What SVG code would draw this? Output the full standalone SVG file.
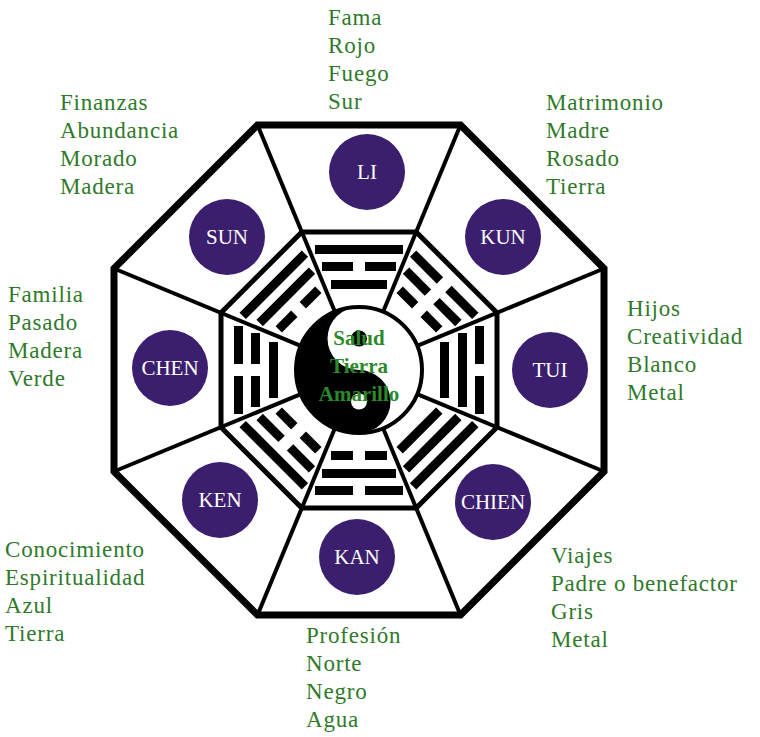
<svg xmlns="http://www.w3.org/2000/svg" xmlns:xlink="http://www.w3.org/1999/xlink" width="760" height="737" viewBox="0 0 760 737">
<style>
.lbl{font-family:"Liberation Serif",serif;font-size:23px;letter-spacing:0.8px;fill:#2f7a2a}
.nm{font-family:"Liberation Serif",serif;font-size:21px;fill:#fff;text-anchor:middle}
.pc{fill:#3b1f6e}
.ctr{font-family:"Liberation Serif",serif;font-size:21px;font-weight:bold;fill:#2a8a2a;text-anchor:middle}
</style>
<defs>
<rect id="s1" x="331" y="280" width="56" height="9"/>
<g id="b1"><rect x="331" y="280" width="22" height="9"/><rect x="365" y="280" width="22" height="9"/></g>
<rect id="s2" x="322" y="262" width="74" height="9"/>
<g id="b2"><rect x="322" y="262" width="31" height="9"/><rect x="365" y="262" width="31" height="9"/></g>
<rect id="s3" x="315" y="245" width="88" height="9"/>
<g id="b3"><rect x="315" y="245" width="38" height="9"/><rect x="365" y="245" width="38" height="9"/></g>
</defs>
<rect width="760" height="737" fill="#fff"/>
<g id="frame" fill="none" stroke="#000">
<polygon points="257.5,125 460.5,125 604,268.5 604,471.5 460.5,615 257.5,615 114,471.5 114,268.5" stroke-width="7"/>
<polygon points="301.8,232 416.2,232 497,312.8 497,427.2 416.2,508 301.8,508 221,427.2 221,312.8" stroke-width="5"/>
</g>
<g id="connectors" stroke="#000" stroke-width="4">
<line x1="383.1" y1="311.8" x2="460.5" y2="125"/>
<line x1="417.2" y1="345.9" x2="604" y2="268.5"/>
<line x1="417.2" y1="394.1" x2="604" y2="471.5"/>
<line x1="383.1" y1="428.2" x2="460.5" y2="615"/>
<line x1="334.9" y1="428.2" x2="257.5" y2="615"/>
<line x1="300.8" y1="394.1" x2="114" y2="471.5"/>
<line x1="300.8" y1="345.9" x2="114" y2="268.5"/>
<line x1="334.9" y1="311.8" x2="257.5" y2="125"/>
</g>
<g id="trigrams" fill="#000">
<g id="tri-li"><use href="#s1"/><use href="#b2"/><use href="#s3"/></g>
<g id="tri-kun" transform="rotate(45 359 370)"><use href="#b1"/><use href="#b2"/><use href="#b3"/></g>
<g id="tri-tui" transform="rotate(90 359 370)"><use href="#s1"/><use href="#s2"/><use href="#b3"/></g>
<g id="tri-chien" transform="rotate(135 359 370)"><use href="#s1"/><use href="#s2"/><use href="#s3"/></g>
<g id="tri-kan" transform="rotate(180 359 370)"><use href="#b1"/><use href="#s2"/><use href="#b3"/></g>
<g id="tri-ken" transform="rotate(225 359 370)"><use href="#b1"/><use href="#b2"/><use href="#s3"/></g>
<g id="tri-chen" transform="rotate(270 359 370)"><use href="#s1"/><use href="#b2"/><use href="#b3"/></g>
<g id="tri-sun" transform="rotate(315 359 370)"><use href="#b1"/><use href="#s2"/><use href="#s3"/></g>
</g>
<g id="center">
<circle cx="359" cy="370" r="63" fill="#fff"/>
<path d="M359,307 A63,63 0 0 0 359,433 A31.5,31.5 0 0 0 359,370 A31.5,31.5 0 0 1 359,307 Z" fill="#000"/>
<circle cx="359" cy="338.5" r="8" fill="#000"/>
<circle cx="359" cy="401.5" r="8" fill="#fff"/>
<circle cx="359" cy="370" r="63" fill="none" stroke="#000" stroke-width="4"/>
<text class="ctr" x="359" y="345">Salud</text>
<text class="ctr" x="359" y="373">Tierra</text>
<text class="ctr" x="359" y="401">Amarillo</text>
</g>
<g id="n-li"><circle class="pc" cx="367" cy="172" r="38"/><text class="nm" x="367" y="179">LI</text></g>
<g id="n-sun"><circle class="pc" cx="227" cy="237" r="38"/><text class="nm" x="227" y="244">SUN</text></g>
<g id="n-kun"><circle class="pc" cx="503" cy="237" r="38"/><text class="nm" x="503" y="244">KUN</text></g>
<g id="n-chen"><circle class="pc" cx="170" cy="368" r="38"/><text class="nm" x="170" y="375">CHEN</text></g>
<g id="n-tui"><circle class="pc" cx="550" cy="370" r="38"/><text class="nm" x="550" y="377">TUI</text></g>
<g id="n-ken"><circle class="pc" cx="220" cy="500" r="38"/><text class="nm" x="220" y="507">KEN</text></g>
<g id="n-chien"><circle class="pc" cx="493" cy="502" r="38"/><text class="nm" x="493" y="509">CHIEN</text></g>
<g id="n-kan"><circle class="pc" cx="357" cy="557" r="38"/><text class="nm" x="357" y="564">KAN</text></g>
<g id="labels" class="lbl">
<text class="lbl" x="328" y="25">Fama</text><text class="lbl" x="328" y="53">Rojo</text><text class="lbl" x="328" y="81">Fuego</text><text class="lbl" x="328" y="109">Sur</text>
<text class="lbl" x="60" y="110">Finanzas</text><text class="lbl" x="60" y="138">Abundancia</text><text class="lbl" x="60" y="166">Morado</text><text class="lbl" x="60" y="194">Madera</text>
<text class="lbl" x="546" y="110">Matrimonio</text><text class="lbl" x="546" y="138">Madre</text><text class="lbl" x="546" y="166">Rosado</text><text class="lbl" x="546" y="194">Tierra</text>
<text class="lbl" x="8" y="302">Familia</text><text class="lbl" x="8" y="330">Pasado</text><text class="lbl" x="8" y="358">Madera</text><text class="lbl" x="8" y="386">Verde</text>
<text class="lbl" x="627" y="316">Hijos</text><text class="lbl" x="627" y="344">Creatividad</text><text class="lbl" x="627" y="372">Blanco</text><text class="lbl" x="627" y="400">Metal</text>
<text class="lbl" x="5" y="557">Conocimiento</text><text class="lbl" x="5" y="585">Espiritualidad</text><text class="lbl" x="5" y="613">Azul</text><text class="lbl" x="5" y="641">Tierra</text>
<text class="lbl" x="551" y="563">Viajes</text><text class="lbl" x="551" y="591">Padre o benefactor</text><text class="lbl" x="551" y="619">Gris</text><text class="lbl" x="551" y="647">Metal</text>
<text class="lbl" x="306" y="643">Profesión</text><text class="lbl" x="306" y="671">Norte</text><text class="lbl" x="306" y="699">Negro</text><text class="lbl" x="306" y="727">Agua</text>
</g>
</svg>
